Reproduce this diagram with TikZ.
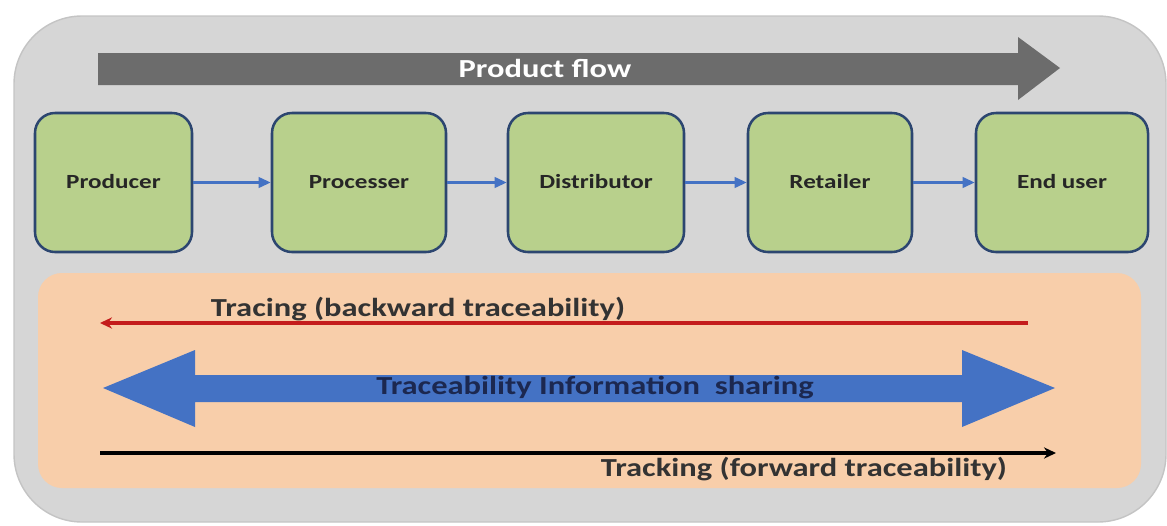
\documentclass[tikz,border=0pt]{standalone}
\usepackage{fontspec}
\setmainfont{Carlito}[FakeStretch=1.25]
\usetikzlibrary{arrows.meta}

\definecolor{panelgray}{RGB}{214,214,214}
\definecolor{edgegray}{RGB}{196,196,196}
\definecolor{flowgray}{RGB}{108,108,108}
\definecolor{stagegreen}{RGB}{184,208,140}
\definecolor{stageedge}{RGB}{44,70,112}
\definecolor{linkblue}{RGB}{68,114,196}
\definecolor{traceorange}{RGB}{248,206,170}
\definecolor{sharenavy}{RGB}{28,40,80}
\definecolor{tracered}{RGB}{196,28,28}

\tikzset{
  stage/.style={draw=stageedge, line width=1.8pt, fill=stagegreen, rounded corners=5mm,
    minimum height=34.75mm, text height=2ex, text depth=0.15ex, text=black!85,
    font=\bfseries\fontsize{14.3}{16}\selectfont},
  link/.style={draw=linkblue, line width=1.8pt, -{Triangle[length=3mm,width=2.6mm]}},
  label/.style={font=\bfseries\fontsize{18.5}{21}\selectfont, text=black!80}
}

\begin{document}
\begin{tikzpicture}[x=0.25mm, y=-0.25mm]
  \useasboundingbox (0,0) rectangle (1167,525);

  % background panels
  \filldraw[fill=panelgray, draw=edgegray, line width=1pt, rounded corners=17mm] (14,16) rectangle (1166,522);
  \fill[traceorange, rounded corners=6mm] (38,273) rectangle (1141,488);

  % product flow
  \fill[flowgray] (98,53) -- (1018,53) -- (1018,37) -- (1060,68) -- (1018,100) -- (1018,85) -- (98,85) -- cycle;
  \node[label, text=white] (flow) at (545,68) {Product flow};

  % stages
  \node[stage, minimum width=39.25mm] (prod) at (113.5,182.5) {Producer};
  \node[stage, minimum width=43.5mm] (proc) at (359,182.5) {Processer};
  \node[stage, minimum width=44mm] (dist) at (596,182.5) {Distributor};
  \node[stage, minimum width=41mm] (ret) at (830,182.5) {Retailer};
  \node[stage, minimum width=43mm] (user) at (1062,182.5) {End user};

  \draw[link] (prod) -- (proc);
  \draw[link] (proc) -- (dist);
  \draw[link] (dist) -- (ret);
  \draw[link] (ret) -- (user);

  % tracing
  \coordinate (traceR) at (1028,323);
  \coordinate (traceL) at (100,323);
  \draw[tracered, line width=2.6pt, -{Stealth[length=3mm,width=2.8mm]}] (traceR) -- (traceL);
  \node[label, anchor=west] (tracing) at (206,309) {Tracing (backward traceability)};

  % information sharing
  \fill[linkblue] (103,388) -- (195,350) -- (195,375) -- (962,375) -- (962,350) -- (1055,388)
    -- (962,427) -- (962,402) -- (195,402) -- (195,427) -- cycle;
  \node[label, text=sharenavy] (share) at (595,388) {Traceability Information\ \ sharing};

  % tracking
  \coordinate (trackL) at (100,453);
  \coordinate (trackR) at (1056,453);
  \draw[black, line width=2.6pt, -{Stealth[length=3mm,width=2.8mm]}] (trackL) -- (trackR);
  \node[label, anchor=east] (tracking) at (1012,469) {Tracking (forward traceability)};
\end{tikzpicture}
\end{document}
